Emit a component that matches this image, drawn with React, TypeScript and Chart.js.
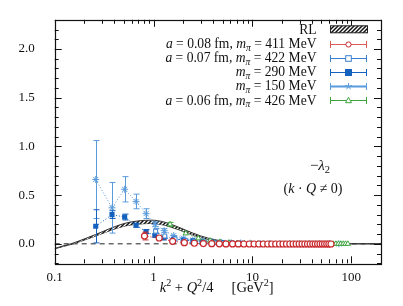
import React, { useEffect, useRef } from 'react';
import { Chart, registerables } from 'chart.js';
Chart.register(...registerables);

// ---------------- data ----------------
const xTicks = [0.1, 1, 10, 100];
const yTicks = [0, 0.5, 1.0, 1.5, 2.0];

const rlX = [0.1, 0.12, 0.15, 0.2, 0.26, 0.33, 0.42, 0.52, 0.65, 0.8, 0.95, 1.1, 1.3, 1.5, 1.8, 2.1, 2.5, 3, 3.6, 4.3, 5.2, 6.3, 7.6, 9.2, 11, 14, 18, 25, 35, 50, 70, 100, 140, 200];
const rlY = [-0.05, -0.026, 0.0, 0.045, 0.088, 0.13, 0.17, 0.198, 0.215, 0.224, 0.226, 0.221, 0.206, 0.186, 0.157, 0.13, 0.1, 0.072, 0.05, 0.034, 0.021, 0.013, 0.008, 0.005, 0.003, 0.0015, 0.0008, 0, 0, 0, 0, 0, 0, 0];
const rlHalf = [0.002, 0.003, 0.004, 0.006, 0.008, 0.01, 0.012, 0.014, 0.016, 0.017, 0.017, 0.017, 0.016, 0.015, 0.013, 0.012, 0.01, 0.009, 0.007, 0.006, 0.005, 0.004, 0.003, 0.002, 0.001, 0.001, 0.001, 0, 0, 0, 0, 0, 0, 0];

const redX = [0.81, 1.14, 1.56, 2.05, 2.59, 3.19, 3.88, 4.63, 5.4, 6.3, 7.2, 8.2, 9.3, 10.4, 11.6, 12.9, 14.3, 15.7, 17.2, 18.8, 20.4, 22.1, 23.9, 25.8, 27.7, 29.7, 31.8, 33.9, 36.1, 38.4, 40.8, 43.2, 45.7, 48.3, 51.0, 53.7, 56.5, 59.4, 62.4];
const redY = [0.08, 0.06, 0.026, 0.012, 0.006, 0.003, 0.001, 0.0, -0.001, -0.001, -0.001, -0.002, -0.002, -0.002, -0.002, -0.002, -0.002, -0.002, -0.002, -0.002, -0.002, -0.002, -0.002, -0.002, -0.002, -0.002, -0.002, -0.002, -0.002, -0.002, -0.002, -0.002, -0.002, -0.002, -0.002, -0.002, -0.002, -0.002, -0.002];
const redE = [0.04, 0.015, 0.008, 0.006, 0.005, 0.004, 0.004, 0.003, 0.003, 0.003, 0.003, 0.003, 0.003, 0.003, 0.003, 0.003, 0.003, 0.003, 0.003, 0.003, 0.003, 0.003, 0.003, 0.003, 0.003, 0.003, 0.003, 0.003, 0.003, 0.003, 0.003, 0.003, 0.003, 0.003, 0.003, 0.003, 0.003, 0.003, 0.003];

const openX = [1.05, 1.3, 1.65, 2.1, 2.6, 3.3, 4.1, 5.1, 6.3, 7.8, 9.6, 11.8, 14.5, 17.8, 21.8, 26.7, 32.7, 40, 49, 60];
const openY = [0.13, 0.08, 0.05, 0.035, 0.025, 0.017, 0.012, 0.008, 0.005, 0.003, 0.002, 0.001, 0.001, 0, 0, 0, 0, 0, 0, 0];
const openE = [0.025, 0.015, 0.01, 0.008, 0.006, 0.005, 0.004, 0.003, 0.003, 0.003, 0.002, 0.002, 0.002, 0.002, 0.002, 0.002, 0.002, 0.002, 0.002, 0.002];

const fillX = [0.26, 0.38, 0.51, 0.665, 0.84, 1.03, 1.28, 1.6, 2.0, 2.5, 3.1, 3.9, 4.9, 6.1, 7.6, 9.5, 12, 15, 19, 24, 30, 38, 48, 60];
const fillY = [0.18, 0.30, 0.275, 0.19, 0.125, 0.085, 0.06, 0.05, 0.04, 0.03, 0.022, 0.016, 0.012, 0.008, 0.005, 0.003, 0.002, 0.001, 0.001, 0, 0, 0, 0, 0];
const fillE = [0.17, 0.04, 0.03, 0.02, 0.02, 0.015, 0.012, 0.01, 0.008, 0.007, 0.006, 0.005, 0.004, 0.004, 0.003, 0.003, 0.003, 0.003, 0.003, 0.003, 0.003, 0.003, 0.003, 0.003];

const starX = [0.26, 0.38, 0.51, 0.665, 0.84, 1.035, 1.28, 1.6, 2.0, 2.5, 3.1, 3.9, 4.9, 6.1, 7.6, 9.5, 12, 15, 19, 24, 30, 38, 48, 60, 75];
const starY = [0.66, 0.37, 0.56, 0.435, 0.31, 0.2, 0.135, 0.085, 0.058, 0.04, 0.03, 0.02, 0.015, 0.01, 0.008, 0.006, 0.004, 0.003, 0.002, 0.002, 0.001, 0.001, 0.001, 0, 0];
const starE = [0.40, 0.26, 0.13, 0.075, 0.05, 0.025, 0.02, 0.015, 0.012, 0.01, 0.008, 0.007, 0.006, 0.005, 0.005, 0.004, 0.004, 0.004, 0.004, 0.004, 0.004, 0.004, 0.004, 0.004, 0.004];

const greenX = [1.47, 2.12, 2.84, 3.73, 4.7, 5.8, 7.0, 8.3, 9.8, 11.4, 13.1, 15.0, 17.0, 19.1, 21.3, 23.7, 26.2, 28.8, 31.5, 34.4, 37.4, 40.5, 43.7, 47.1, 50.6, 54.2, 57.9, 61.8, 65.8, 69.9, 74.1, 78.5, 83.0, 87.6, 92.3];
const greenY = [0.2, 0.107, 0.056, 0.033, 0.02, 0.012, 0.008, 0.005, 0.003, 0.002, 0.001, 0.001, 0, 0, 0, 0, 0, 0, 0, 0, 0, 0, 0, 0, 0, 0, 0, 0, 0, 0, 0, 0, 0, 0, 0];
const greenE = [0.02, 0.012, 0.008, 0.006, 0.005, 0.004, 0.004, 0.003, 0.003, 0.003, 0.003, 0.003, 0.003, 0.003, 0.003, 0.003, 0.003, 0.003, 0.003, 0.003, 0.003, 0.003, 0.003, 0.003, 0.003, 0.003, 0.003, 0.003, 0.003, 0.003, 0.003, 0.003, 0.003, 0.003, 0.003];

const zeroX = [0.1, 200];
const zeroY = [0, 0];

// ---------------- style ----------------
const RED = '#c8282d';
const OPEN = '#3a80d0';
const FILL = '#1462be';
const STAR = '#5a9bdb';
const GREEN = '#3ea43e';
const FONT = "'Liberation Serif', 'DejaVu Serif', serif";

type Seg = { t: string; it?: boolean; sub?: boolean; sup?: boolean };
const R = (t: string): Seg => ({ t });
const I = (t: string): Seg => ({ t, it: true });

function rich(ctx: CanvasRenderingContext2D, segs: Seg[], x: number, y: number, align: string, size: number) {
  const fontFor = (s: Seg) => {
    const sz = s.sub || s.sup ? size * 0.7 : size;
    return `${s.it ? 'italic ' : ''}${sz}px ${FONT}`;
  };
  let total = 0;
  const widths = segs.map((s) => {
    ctx.font = fontFor(s);
    const w = ctx.measureText(s.t).width;
    total += w;
    return w;
  });
  let cx = align === 'right' ? x - total : align === 'center' ? x - total / 2 : x;
  ctx.textAlign = 'left';
  ctx.textBaseline = 'alphabetic';
  segs.forEach((s, i) => {
    ctx.font = fontFor(s);
    const dy = s.sub ? size * 0.22 : s.sup ? -size * 0.38 : 0;
    ctx.fillText(s.t, cx, y + dy);
    cx += widths[i];
  });
}

const pts = (xs: number[], ys: number[]) => xs.map((x, i) => ({ x, y: ys[i] }));

function makeHatch(): CanvasPattern | string {
  const c = document.createElement('canvas');
  c.width = 4;
  c.height = 4;
  const g = c.getContext('2d');
  if (!g) return '#555';
  g.fillStyle = '#ffffff';
  g.fillRect(0, 0, 4, 4);
  g.strokeStyle = '#111';
  g.lineWidth = 1.5;
  g.beginPath();
  g.moveTo(0, 4);
  g.lineTo(4, 0);
  g.moveTo(-1, 1);
  g.lineTo(1, -1);
  g.moveTo(3, 5);
  g.lineTo(5, 3);
  g.stroke();
  const p = g.createPattern(c, 'repeat');
  return p || '#555';
}

function drawMarker(ctx: CanvasRenderingContext2D, style: string, x: number, y: number, color: string) {
  ctx.save();
  ctx.strokeStyle = color;
  ctx.fillStyle = color;
  ctx.lineWidth = 1;
  ctx.beginPath();
  if (style === 'circle') {
    ctx.arc(x, y, 2.6, 0, Math.PI * 2);
    ctx.fillStyle = '#fff';
    ctx.fill();
    ctx.stroke();
  } else if (style === 'open') {
    ctx.fillStyle = '#fff';
    ctx.fillRect(x - 2.8, y - 2.8, 5.6, 5.6);
    ctx.strokeRect(x - 2.8, y - 2.8, 5.6, 5.6);
  } else if (style === 'fill') {
    ctx.fillRect(x - 3.5, y - 3.5, 7, 7);
  } else if (style === 'star') {
    for (let k = 0; k < 5; k++) {
      const a = -Math.PI / 2 + (k * 2 * Math.PI) / 5;
      ctx.moveTo(x, y);
      ctx.lineTo(x + 3.5 * Math.cos(a), y + 3.5 * Math.sin(a));
    }
    ctx.stroke();
  } else if (style === 'tri') {
    ctx.moveTo(x, y - 3.2);
    ctx.lineTo(x + 3, y + 2.2);
    ctx.lineTo(x - 3, y + 2.2);
    ctx.closePath();
    ctx.fillStyle = '#fff';
    ctx.fill();
    ctx.stroke();
  }
  ctx.restore();
}

const errorPlugin = {
  id: 'errorBars',
  beforeDatasetDraw(chart: any, args: any) {
    const ds = chart.data.datasets[args.index];
    const errs: number[] | undefined = ds.errors;
    if (!errs) return;
    const ys = chart.scales.y;
    const ctx = chart.ctx;
    ctx.save();
    ctx.strokeStyle = ds.errColor || ds.borderColor;
    ctx.lineWidth = 1;
    args.meta.data.forEach((el: any, i: number) => {
      const v = ds.data[i].y;
      const e = errs[i];
      const t = ys.getPixelForValue(v + e);
      const b = ys.getPixelForValue(v - e);
      const x = Math.round(el.x) + 0.5;
      ctx.beginPath();
      ctx.moveTo(x, t);
      ctx.lineTo(x, b);
      if (b - t > 3) {
        ctx.moveTo(x - 3, t);
        ctx.lineTo(x + 3, t);
        ctx.moveTo(x - 3, b);
        ctx.lineTo(x + 3, b);
      }
      ctx.stroke();
    });
    ctx.restore();
  },
};

const framePlugin = {
  id: 'frameAndText',
  afterDraw(chart: any) {
    const ctx: CanvasRenderingContext2D = chart.ctx;
    const { left, right, top, bottom } = chart.chartArea;
    const xs = chart.scales.x;
    const ys = chart.scales.y;
    ctx.save();
    ctx.strokeStyle = '#111';
    ctx.lineWidth = 1;
    ctx.beginPath();
    // x ticks
    for (let d = 0.1; d < 300; d *= 10) {
      for (let m = 1; m <= 9; m++) {
        const v = d * m;
        if (v < 0.1 || v > 200) continue;
        const px = Math.round(xs.getPixelForValue(v)) + 0.5;
        const len = m === 1 ? 7 : 4;
        ctx.moveTo(px, bottom);
        ctx.lineTo(px, bottom - len);
        ctx.moveTo(px, top);
        ctx.lineTo(px, top + len);
      }
    }
    // y ticks
    for (let k = -2; k <= 23; k++) {
      const v = k / 10;
      const py = Math.round(ys.getPixelForValue(v)) + 0.5;
      const len = k % 5 === 0 ? 7 : 4;
      ctx.moveTo(left, py);
      ctx.lineTo(left + len, py);
      ctx.moveTo(right, py);
      ctx.lineTo(right - len, py);
    }
    ctx.stroke();
    ctx.lineWidth = 1.2;
    ctx.strokeRect(Math.round(left) + 0.5, Math.round(top) + 0.5, Math.round(right - left), Math.round(bottom - top));

    // legend
    ctx.fillStyle = '#111';
    const tx = 316.5;
    const sx0 = 330;
    const sx1 = 367;
    const rows: { y: number; segs: Seg[]; kind: string; color: string }[] = [
      { y: 29.3, segs: [R('RL')], kind: 'rl', color: '#222' },
      { y: 43.5, segs: [I('a'), R(' = 0.08 fm, '), I('m'), { t: 'π', it: true, sub: true }, R(' = 411 MeV')], kind: 'circle', color: RED },
      { y: 57.7, segs: [I('a'), R(' = 0.07 fm, '), I('m'), { t: 'π', it: true, sub: true }, R(' = 422 MeV')], kind: 'open', color: OPEN },
      { y: 71.5, segs: [I('m'), { t: 'π', it: true, sub: true }, R(' = 290 MeV')], kind: 'fill', color: FILL },
      { y: 85.7, segs: [I('m'), { t: 'π', it: true, sub: true }, R(' = 150 MeV')], kind: 'star', color: STAR },
      { y: 100, segs: [I('a'), R(' = 0.06 fm, '), I('m'), { t: 'π', it: true, sub: true }, R(' = 426 MeV')], kind: 'tri', color: GREEN },
    ];
    rows.forEach((r) => {
      ctx.fillStyle = '#111';
      rich(ctx, r.segs, tx, r.y + 4.5, 'right', 13.6);
      if (r.kind === 'rl') {
        ctx.save();
        ctx.fillStyle = (chart as any).$hatch || '#555';
        ctx.fillRect(sx0, r.y - 3.5, sx1 - sx0, 7);
        ctx.strokeStyle = '#222';
        ctx.lineWidth = 1;
        ctx.strokeRect(sx0 + 0.5, r.y - 3.5, sx1 - sx0, 7);
        ctx.restore();
      } else {
        ctx.save();
        const yy = Math.round(r.y) + 0.5;
        if (r.kind === 'star') {
          ctx.strokeStyle = '#a8cbee';
          ctx.lineWidth = 3;
          ctx.beginPath();
          ctx.moveTo(sx0, yy);
          ctx.lineTo(sx1, yy);
          ctx.stroke();
        }
        ctx.strokeStyle = r.kind === 'circle' ? '#dc5a5a' : r.color;
        ctx.lineWidth = 1;
        ctx.beginPath();
        ctx.moveTo(sx0, yy);
        ctx.lineTo(sx1, yy);
        ctx.moveTo(sx0 + 0.5, yy - 3.5);
        ctx.lineTo(sx0 + 0.5, yy + 3.5);
        ctx.moveTo(sx1 - 0.5, yy - 3.5);
        ctx.lineTo(sx1 - 0.5, yy + 3.5);
        ctx.stroke();
        ctx.restore();
        drawMarker(ctx, r.kind, (sx0 + sx1) / 2, yy, r.color);
      }
    });

    // annotations
    ctx.fillStyle = '#111';
    rich(ctx, [R('−'), I('λ'), { t: '2', sub: true }], 320, 170, 'center', 15);
    rich(ctx, [R('('), I('k'), R(' · '), I('Q'), R(' ≠ 0)')], 313, 193, 'center', 14);
    // x-axis title
    rich(ctx, [I('k'), { t: '2', sup: true }, R(' + '), I('Q'), { t: '2', sup: true }, R('/4     [GeV'), { t: '2', sup: true }, R(']')], 216.7, 292, 'center', 14.5);
    ctx.restore();
  },
};

export default function App() {
  const ref = useRef<HTMLCanvasElement | null>(null);
  useEffect(() => {
    document.body.style.margin = '0';
    const canvas = ref.current;
    if (!canvas) return;
    const hatch = makeHatch();
    const dotted = [1, 2];
    const chart = new Chart(canvas, {
      type: 'line',
      data: {
        datasets: [
          {
            label: 'a = 0.08 fm, mπ = 411 MeV',
            data: pts(redX, redY),
            errors: redE,
            borderColor: RED,
            backgroundColor: '#ffffff',
            borderWidth: 1,
            borderDash: dotted,
            pointStyle: 'circle',
            pointRadius: 3,
            pointBorderWidth: 1.2,
          } as any,
          {
            label: 'a = 0.06 fm, mπ = 426 MeV',
            data: pts(greenX, greenY),
            errors: greenE,
            borderColor: GREEN,
            backgroundColor: '#ffffff',
            borderWidth: 1,
            borderDash: dotted,
            pointStyle: 'triangle',
            pointRadius: 3,
            pointBorderWidth: 1,
          } as any,
          {
            label: 'a = 0.07 fm, mπ = 422 MeV',
            data: pts(openX, openY),
            errors: openE,
            borderColor: OPEN,
            backgroundColor: '#ffffff',
            borderWidth: 1,
            borderDash: dotted,
            pointStyle: 'rect',
            pointRadius: 2.8,
            pointBorderWidth: 1,
          } as any,
          {
            label: 'mπ = 290 MeV',
            data: pts(fillX, fillY),
            errors: fillE,
            borderColor: FILL,
            backgroundColor: FILL,
            borderWidth: 1,
            borderDash: dotted,
            pointStyle: 'rect',
            pointRadius: 3.6,
            pointBorderWidth: 0,
          } as any,
          {
            label: 'mπ = 150 MeV',
            data: pts(starX, starY),
            errors: starE,
            borderColor: STAR,
            backgroundColor: STAR,
            borderWidth: 1,
            borderDash: dotted,
            pointStyle: 'star',
            pointRadius: 3.5,
            pointBorderWidth: 1,
          } as any,
          {
            label: 'RL',
            data: pts(rlX, rlY.map((v, i) => v + rlHalf[i])),
            borderColor: '#333',
            borderWidth: 1,
            backgroundColor: hatch as any,
            fill: '+1',
            pointRadius: 0,
            cubicInterpolationMode: 'monotone',
          } as any,
          {
            label: 'RL lower',
            data: pts(rlX, rlY.map((v, i) => v - rlHalf[i])),
            borderColor: '#333',
            borderWidth: 1,
            fill: false,
            pointRadius: 0,
            cubicInterpolationMode: 'monotone',
          } as any,
          {
            label: 'zero',
            data: pts(zeroX, zeroY),
            borderColor: '#222',
            borderWidth: 1,
            borderDash: [5, 4],
            fill: false,
            pointRadius: 0,
          } as any,
        ],
      },
      options: {
        responsive: false,
        animation: false,
        devicePixelRatio: 1,
        layout: { padding: { top: 14.7, right: 22, left: 0, bottom: 0 } },
        plugins: { legend: { display: false }, tooltip: { enabled: false } },
        scales: {
          x: {
            type: 'logarithmic',
            min: 0.1,
            max: 200,
            grid: { display: false },
            border: { display: false },
            afterBuildTicks: (s: any) => {
              s.ticks = xTicks.map((v) => ({ value: v }));
            },
            afterFit: (s: any) => {
              s.height = 42.7;
            },
            ticks: {
              autoSkip: false,
              maxRotation: 0,
              padding: -2,
              color: '#111',
              font: { family: FONT, size: 13 },
              callback: (v: any) => String(v),
            },
          },
          y: {
            type: 'linear',
            min: -0.2,
            max: 2.3,
            grid: { display: false },
            border: { display: false },
            afterBuildTicks: (s: any) => {
              s.ticks = yTicks.map((v) => ({ value: v }));
            },
            afterFit: (s: any) => {
              s.width = 54.7;
            },
            ticks: {
              padding: 12,
              color: '#111',
              font: { family: FONT, size: 13 },
              callback: (v: any) => Number(v).toFixed(1),
            },
          },
        },
      } as any,
      plugins: [errorPlugin, framePlugin],
    });
    (chart as any).$hatch = hatch;
    chart.draw();
    return () => chart.destroy();
  }, []);
  return (
    <div style={{ position: 'absolute', left: 0, top: 0, width: 403, height: 306, background: '#fff' }}>
      <canvas ref={ref} width={403} height={306} style={{ display: 'block' }} />
    </div>
  );
}
